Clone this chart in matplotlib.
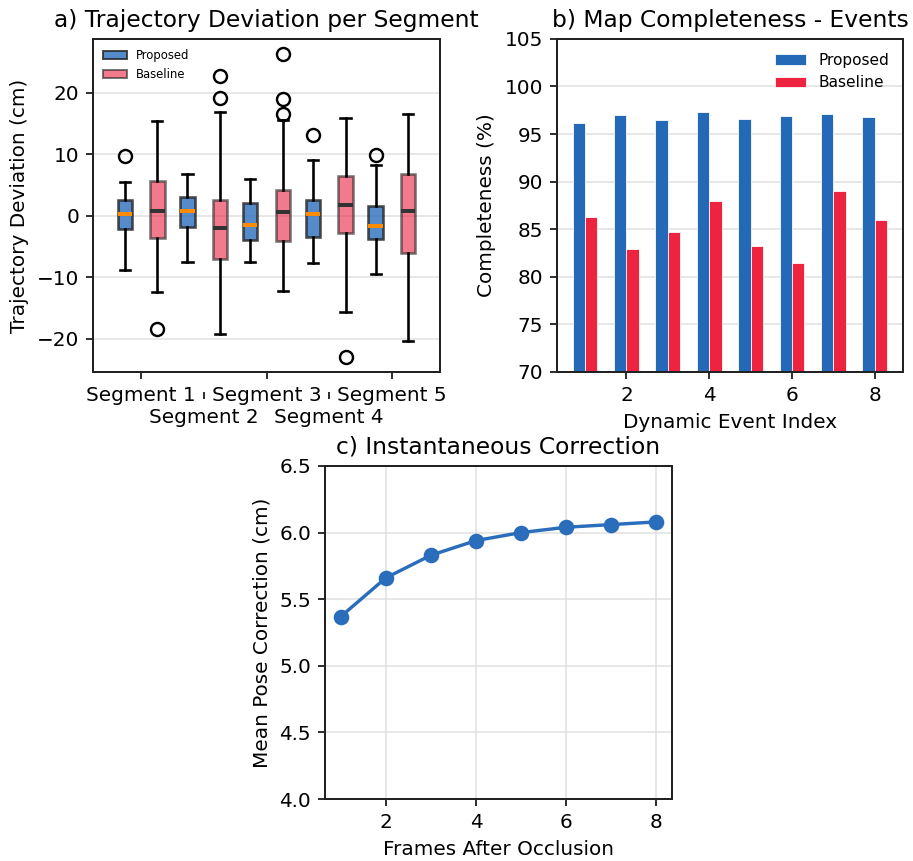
import matplotlib
matplotlib.use("Agg")
import matplotlib.pyplot as plt
import matplotlib.transforms as mtransforms
from matplotlib.patches import Patch

# ---- panel a: trajectory deviation per segment (box stats)
segments = ["Segment 1", "Segment 2", "Segment 3", "Segment 4", "Segment 5"]
prop_med = [0.32, 0.81, -1.46, 0.27, -1.68]
prop_q1 = [-2.11, -1.78, -3.95, -3.41, -3.68]
prop_q3 = [2.59, 3.03, 2.16, 2.54, 1.62]
prop_lo = [-8.76, -7.51, -7.51, -7.62, -9.41]
prop_hi = [5.51, 6.81, 5.95, 9.14, 8.22]
prop_fliers = [[9.68], [], [], [13.2], [9.84]]

base_med = [0.86, -1.95, 0.65, 1.84, 0.86]
base_q1 = [-3.57, -6.97, -4.0, -2.76, -6.05]
base_q3 = [5.73, 2.59, 4.16, 6.54, 6.86]
base_lo = [-12.3, -19.2, -12.27, -15.6, -20.4]
base_hi = [15.5, 16.9, 15.6, 15.9, 16.6]
base_fliers = [[-18.4], [22.7, 19.2], [26.3, 19.0, 16.6], [-22.9], []]

# ---- panel b: map completeness
events = [1, 2, 3, 4, 5, 6, 7, 8]
comp_proposed = [96.2, 97.0, 96.5, 97.3, 96.6, 96.9, 97.1, 96.8]
comp_baseline = [86.3, 82.9, 84.7, 88.0, 83.2, 81.4, 89.0, 86.0]

# ---- panel c: instantaneous correction
frames = [1, 2, 3, 4, 5, 6, 7, 8]
correction = [5.37, 5.66, 5.83, 5.94, 6.00, 6.04, 6.06, 6.08]

BLUE = "#2a6ebb"
RED = "#e8213f"

dpi = 144
fig = plt.figure(figsize=(913 / dpi, 861 / dpi), dpi=dpi)
plt.rcParams["font.size"] = 10

ax1 = fig.add_axes([0.1019, 0.568, 0.380, 0.3868])
ax2 = fig.add_axes([0.610, 0.568, 0.379, 0.3868])
ax3 = fig.add_axes([0.356, 0.072, 0.380, 0.3868])


def make_stats(med, q1, q3, lo, hi, fl):
    return [dict(med=m, q1=a, q3=b, whislo=l, whishi=h, fliers=f)
            for m, a, b, l, h, f in zip(med, q1, q3, lo, hi, fl)]


seg_pos = list(range(1, len(segments) + 1))
off = 0.26
w = 0.23
common = dict(widths=w, patch_artist=True, manage_ticks=False,
              capwidths=w * 0.7,
              whiskerprops=dict(color="black", linewidth=1.3),
              capprops=dict(color="black", linewidth=1.3),
              flierprops=dict(marker="o", markerfacecolor="none",
                              markeredgecolor="black", markersize=6.5,
                              markeredgewidth=1.2))
bp1 = ax1.bxp(make_stats(prop_med, prop_q1, prop_q3, prop_lo, prop_hi, prop_fliers),
              positions=[p - off for p in seg_pos],
              boxprops=dict(facecolor=BLUE, edgecolor="#222222", alpha=0.8, linewidth=1.3),
              medianprops=dict(color="#ff8c00", linewidth=2),
              **common)
bp2 = ax1.bxp(make_stats(base_med, base_q1, base_q3, base_lo, base_hi, base_fliers),
              positions=[p + off for p in seg_pos],
              boxprops=dict(facecolor=RED, edgecolor="#222222", alpha=0.6, linewidth=1.3),
              medianprops=dict(color="#333333", linewidth=2),
              **common)

ax1.set_xlim(0.234, 5.766)
ax1.set_xticks(seg_pos)
ax1.set_xticklabels([s if i % 2 == 0 else "\n" + s for i, s in enumerate(segments)])
shift = mtransforms.ScaledTranslation(0, -20 / dpi, fig.dpi_scale_trans)
for i, tick in enumerate(ax1.xaxis.get_major_ticks()):
    if i % 2 == 1:
        tick.tick1line.set_transform(tick.tick1line.get_transform() + shift)
ax1.set_ylabel("Trajectory Deviation (cm)")
ax1.set_title("a) Trajectory Deviation per Segment", fontsize=11.7)
ax1.yaxis.grid(True, color="#dddddd", alpha=0.7, linewidth=1)
ax1.set_axisbelow(True)
ax1.legend(handles=[Patch(facecolor=BLUE, edgecolor="#222222", alpha=0.8, label="Proposed"),
                    Patch(facecolor=RED, edgecolor="#222222", alpha=0.6, label="Baseline")],
           loc="upper left", fontsize=5.8, frameon=False)

# panel b
bw = 0.3
ax2.bar([e - bw / 2 for e in events], comp_proposed, width=bw, color="#2469b7",
        edgecolor="white", linewidth=0.4, label="Proposed")
ax2.bar([e + bw / 2 for e in events], comp_baseline, width=bw, color="#ee2340",
        edgecolor="white", linewidth=0.4, label="Baseline")
ax2.set_ylim(70, 105)
ax2.set_xticks([2, 4, 6, 8])
ax2.set_xlabel("Dynamic Event Index")
ax2.set_ylabel("Completeness (%)")
ax2.set_title("b) Map Completeness - Events", fontsize=11.7)
ax2.yaxis.grid(True, color="#dddddd", alpha=0.7, linewidth=1)
ax2.set_axisbelow(True)
ax2.legend(loc="upper right", fontsize=7.7, frameon=False)

# panel c
ax3.plot(frames, correction, "-o", color=BLUE, linewidth=1.7, markersize=6.8)
ax3.set_ylim(4.0, 6.5)
ax3.set_xticks([2, 4, 6, 8])
ax3.set_xlabel("Frames After Occlusion")
ax3.set_ylabel("Mean Pose Correction (cm)")
ax3.set_title("c) Instantaneous Correction", fontsize=11.7)
ax3.grid(True, color="#dddddd", alpha=0.7, linewidth=1)

for ax in (ax1, ax2, ax3):
    for sp in ax.spines.values():
        sp.set_linewidth(1.0)
        sp.set_color("#222222")

fig.savefig("out.png", dpi=dpi)
